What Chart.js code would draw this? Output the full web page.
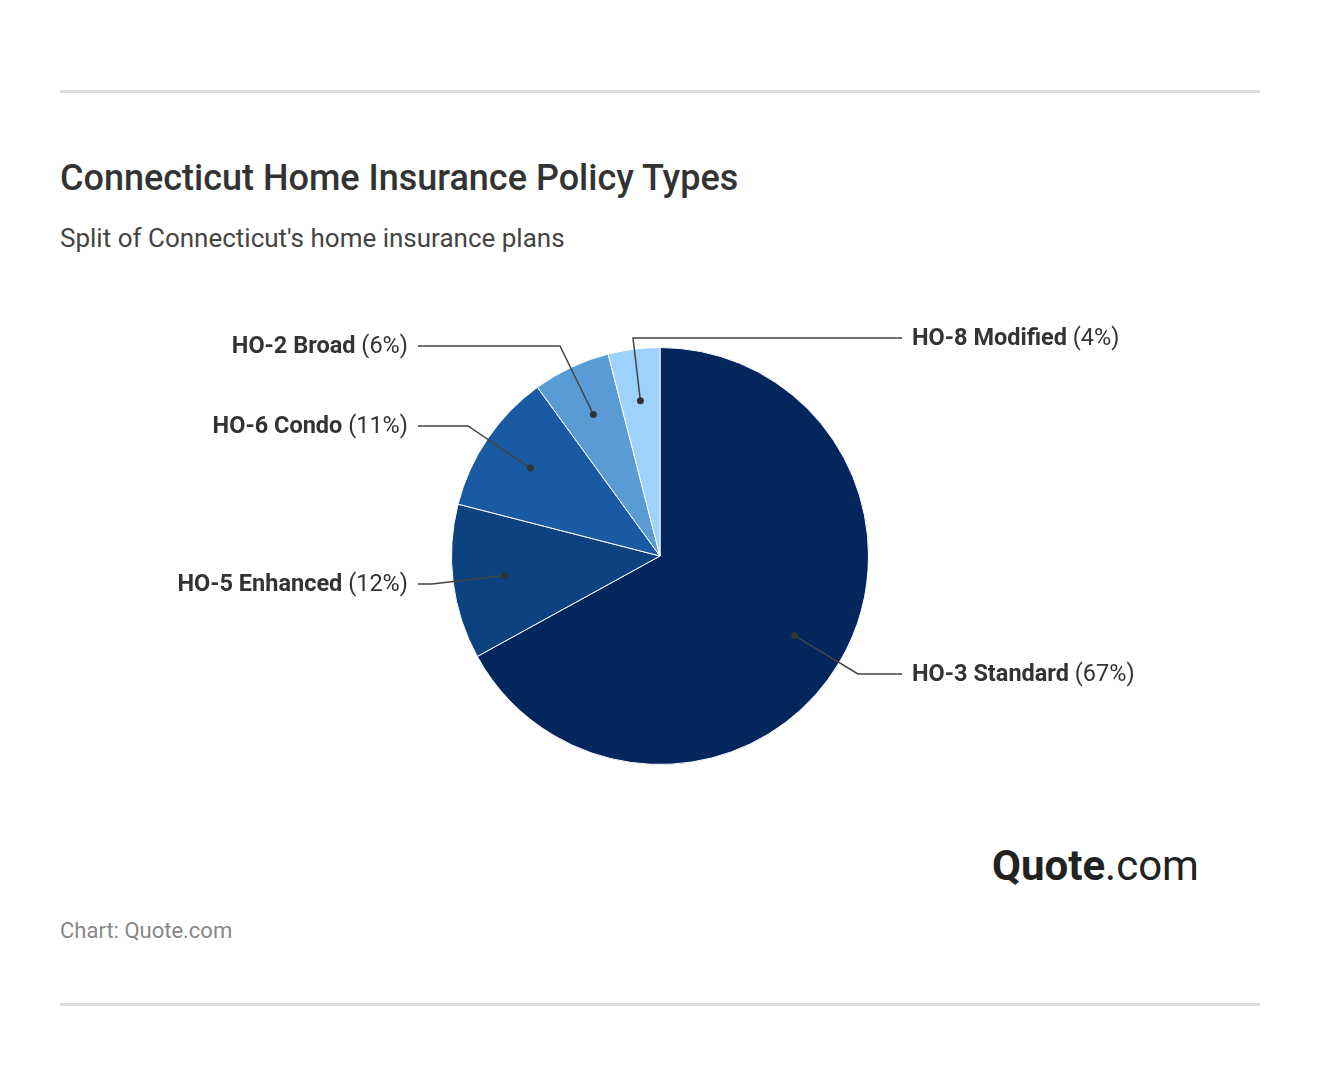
<!DOCTYPE html>
<html><head><meta charset="utf-8">
<script src="https://cdn.jsdelivr.net/npm/chart.js@4/dist/chart.umd.min.js"></script>
<style>
body{margin:0;width:1320px;height:1088px;background:#fff;font-family:Roboto,sans-serif;position:relative;overflow:hidden}
.hr{position:absolute;left:60px;width:1200px;height:3px;background:#ddd}
#t{position:absolute;left:60px;top:156px;font-size:36px;font-weight:500;color:#333;line-height:44px}
#s{position:absolute;left:60px;top:222px;font-size:26px;color:#444;line-height:32px}
#f{position:absolute;left:60px;top:917px;font-size:22px;color:#888;line-height:28px}
#logo{position:absolute;left:992px;top:841px;font-size:42px;color:#222;line-height:50px}
#wrap{position:absolute;left:0;top:0;width:1320px;height:1088px}
</style></head><body>
<div class="hr" style="top:90px"></div><div class="hr" style="top:1003px"></div>
<div id="t">Connecticut Home Insurance Policy Types</div>
<div id="s">Split of Connecticut's home insurance plans</div>
<div id="logo"><b>Quote</b>.com</div>
<div id="f">Chart: Quote.com</div>
<div id="wrap"><canvas id="c"></canvas></div>
<script>
const categories=["HO-3 Standard","HO-5 Enhanced","HO-6 Condo","HO-2 Broad","HO-8 Modified"];
const values=[67,12,11,6,4];
const colors=["#03265c","#0d4281","#1a5aa3","#5b9bd5","#9dd2fd"];
// label layout: [side, labelY, elbowX]
const layout=[["r",674,858],["l",584,432],["l",426,468],["l",346,560],["r",338,633]];
const labelPlugin={id:"lbl",afterDraw(ch){
 const ctx=ch.ctx,meta=ch.getDatasetMeta(0);
 meta.data.forEach((a,i)=>{
  const mid=(a.startAngle+a.endAngle)/2,r=a.outerRadius*0.75;
  const dx=a.x+Math.cos(mid)*r,dy=a.y+Math.sin(mid)*r;
  const [side,ly,ex]=layout[i];
  const endX=side==="r"?902:418;
  ctx.save();ctx.strokeStyle="#444";ctx.lineWidth=1.5;
  ctx.beginPath();ctx.moveTo(dx,dy);ctx.lineTo(ex,ly);ctx.lineTo(endX,ly);ctx.stroke();
  ctx.fillStyle="#333";ctx.beginPath();ctx.arc(dx,dy,3.5,0,Math.PI*2);ctx.fill();
  const b=categories[i]+" ",n="("+values[i]+"%)";
  ctx.textBaseline="middle";
  ctx.font="bold 23.5px Roboto";const wb=ctx.measureText(b).width;
  ctx.font="23.5px Roboto";const wn=ctx.measureText(n).width;
  let x=side==="r"?912:408-wb-wn;
  ctx.font="bold 23.5px Roboto";ctx.textAlign="left";ctx.fillText(b,x,ly+1);
  ctx.font="23.5px Roboto";ctx.fillText(n,x+wb,ly+1);
  ctx.restore();
 });
}};
new Chart(document.getElementById("c"),{type:"pie",
 data:{labels:categories,datasets:[{data:values,backgroundColor:colors,borderColor:"#fff",borderWidth:1}]},
 options:{responsive:true,maintainAspectRatio:false,animation:false,
  layout:{padding:{left:451,right:451,top:347,bottom:323}},
  plugins:{legend:{display:false},tooltip:{enabled:false}}},
 plugins:[labelPlugin]});
</script></body></html>
